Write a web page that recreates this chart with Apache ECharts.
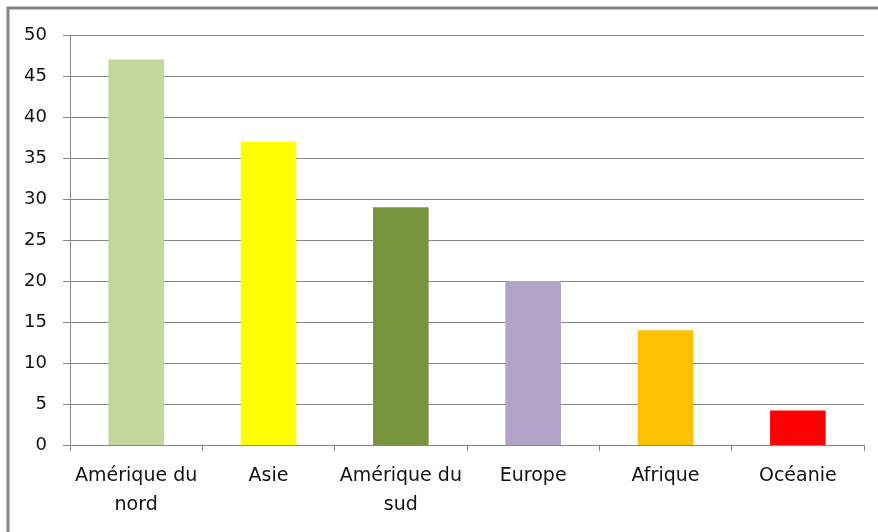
<!DOCTYPE html>
<html>
<head>
<meta charset="utf-8">
<script src="https://cdn.jsdelivr.net/npm/echarts@6/dist/echarts.min.js"></script>
<style>html,body{margin:0;padding:0;background:#fff;}#c{width:878px;height:532px;}</style>
</head>
<body>
<div id="c"></div>
<script>
const categories = ['Amérique du nord', 'Asie', 'Amérique du sud', 'Europe', 'Afrique', 'Océanie'];
const values = [47, 37, 29, 20, 14, 4.2];
const barColors = ['#C3D69B', '#FFFF00', '#77933C', '#B3A2C7', '#FFC000', '#FF0000'];

const chart = echarts.init(document.getElementById('c'));
chart.setOption({
  animation: false,
  backgroundColor: '#ffffff',
  graphic: [{
    type: 'rect',
    shape: { x: 8, y: 8, width: 1000, height: 1000 },
    style: { fill: 'none', stroke: '#868686', lineWidth: 3 },
    silent: true
  }],
  grid: { left: 70, right: 14, top: 35, bottom: 87 },
  xAxis: {
    type: 'category',
    data: categories,
    axisLine: { lineStyle: { color: '#868686', width: 1 } },
    axisTick: { show: true, length: 6, lineStyle: { color: '#868686' } },
    axisLabel: {
      color: '#111',
      fontFamily: 'DejaVu Sans',
      fontSize: 19,
      lineHeight: 29,
      margin: 17,
      interval: 0,
      formatter: function (v) { return v.replace(' du ', ' du\n'); }
    }
  },
  yAxis: {
    type: 'value',
    min: 0, max: 50, interval: 5,
    axisLine: { show: true, lineStyle: { color: '#868686', width: 1 } },
    axisTick: { show: true, length: 7, lineStyle: { color: '#868686' } },
    splitLine: { lineStyle: { color: '#868686', width: 1 } },
    axisLabel: { color: '#111', fontFamily: 'DejaVu Sans', fontSize: 18, margin: 23 }
  },
  series: [{
    type: 'bar',
    barWidth: '42%',
    data: values.map((v, i) => ({ value: v, itemStyle: { color: barColors[i] } }))
  }]
});
</script>
</body>
</html>
